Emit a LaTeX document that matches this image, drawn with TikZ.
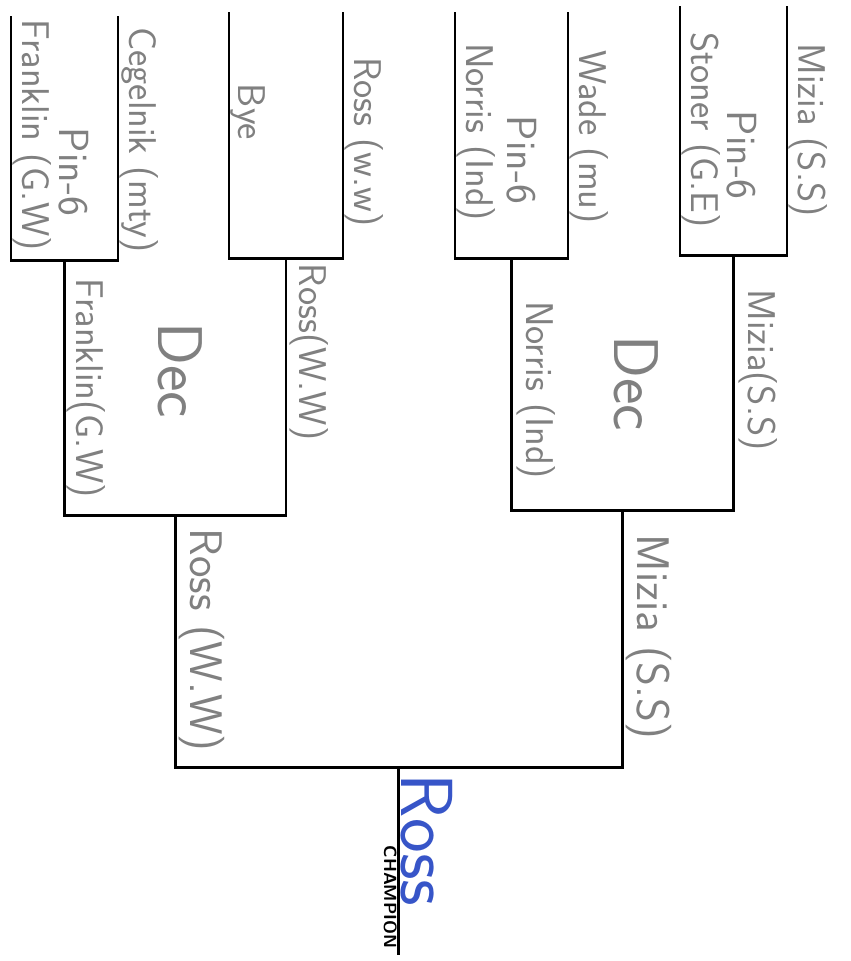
\documentclass[tikz,border=0pt]{standalone}
\usepackage{tikz}
\usetikzlibrary{calc}

\definecolor{inkblue}{RGB}{55,85,200}

\tikzset{
  bracket/.style={line width=1.7pt, black, line join=miter},
  pencil/.style={rotate=-90, inner sep=1pt, text=black!50, font=\sffamily\fontsize{#1}{#1}\selectfont},
  pencil/.default=22,
  entrant/.style={pencil=#1, anchor=south},
  entrant/.default=22,
}

\begin{document}
\begin{tikzpicture}[x=0.02cm,y=-0.02cm]
    \useasboundingbox (0,0) rectangle (850,961);

    % first round
    \foreach \name/\l/\r/\t/\b in {m1/11/118/16/260, m2/229/343/12/258, m3/455/568/12/258, m4/680/787/6/255}{
        \coordinate (\name l) at (\l,\b);
        \coordinate (\name r) at (\r,\b);
        \draw[bracket] (\l,\t) -- (\name l) -- (\name r) -- (\r,\t);
    }

    % second round
    \coordinate (s1) at ($(m1l)!0.5!(m1r)$);
    \coordinate (s2) at ($(m2l)!0.5!(m2r)$);
    \coordinate (s3) at ($(m3l)!0.5!(m3r)$);
    \coordinate (s4) at ($(m4l)!0.5!(m4r)$);
    \coordinate (s12l) at (s1 |- 0,515);
    \coordinate (s12r) at (s2 |- 0,515);
    \coordinate (s34l) at (s3 |- 0,510);
    \coordinate (s34r) at (s4 |- 0,510);
    \draw[bracket] (s1) -- (s12l) -- (s12r) -- (s2);
    \draw[bracket] (s3) -- (s34l) -- (s34r) -- (s4);

    % final
    \coordinate (f1) at ($(s12l)!0.5!(s12r)$);
    \coordinate (f2) at ($(s34l)!0.5!(s34r)$);
    \coordinate (fl) at (f1 |- 0,767);
    \coordinate (fr) at (f2 |- 0,767);
    \draw[bracket] (f1) -- (fl) -- (fr) -- (f2);

    % champion
    \coordinate (champ) at ($(fl)!0.5!(fr)$);
    \coordinate (champend) at (champ |- 0,955);
    \draw[bracket] (champ) -- (champend);

    % names, first round
    \node[entrant] (franklin1) at (11,135) {Franklin (G.W)};
    \node[entrant] (cegelnik) at (118,140) {Cegelnik (mty)};
    \node[pencil=24] (pin1) at (74,172) {Pin-6};
    \node[entrant] (bye) at (229,112) {Bye};
    \node[entrant] (ross1) at (343,142) {Ross (w.w)};
    \node[entrant] (norris1) at (455,132) {Norris (Ind)};
    \node[entrant] (wade) at (568,137) {Wade (mu)};
    \node[pencil=24] (pin3) at (522,160) {Pin-6};
    \node[entrant] (stoner) at (680,130) {Stoner (G.E)};
    \node[entrant] (mizia1) at (787,130) {Mizia (S.S)};
    \node[pencil=24] (pin4) at (742,155) {Pin-6};

    % names, second round
    \node[entrant] (franklin2) at (65,388) {Franklin(G.W)};
    \node[entrant] (ross2) at (288,352) {Ross(W.W)};
    \node[pencil=36] (dec1) at (180,370) {Dec};
    \node[entrant] (norris2) at (515,390) {Norris (Ind)};
    \node[entrant] (mizia2) at (737,370) {Mizia(S.S)};
    \node[pencil=36] (dec2) at (636,383) {Dec};

    % names, final
    \node[entrant=26] (ross3) at (177,640) {Ross (W.W)};
    \node[entrant=26] (mizia3) at (624,637) {Mizia (S.S)};

    % champion
    \node[entrant=42, text=inkblue] (winner) at (champ |- 0,840) {Ross};
    \node[rotate=-90, anchor=north, inner sep=1pt, font=\sffamily\bfseries\fontsize{10}{10}\selectfont] (champlabel) at (champ |- 0,897) {CHAMPION};
\end{tikzpicture}
\end{document}
